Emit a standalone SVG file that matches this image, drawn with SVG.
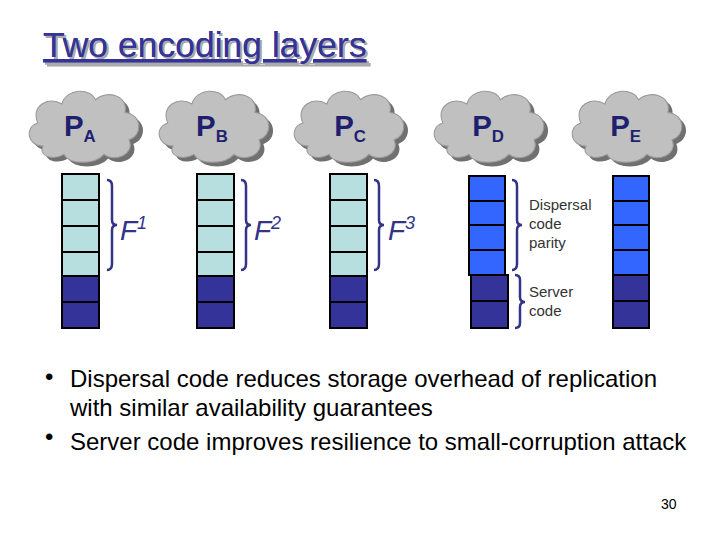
<svg xmlns="http://www.w3.org/2000/svg" width="720" height="540" viewBox="0 0 720 540">
<style>
.l{fill:#b8dfe0;stroke:#000;stroke-width:2}
.m{fill:#3366ff;stroke:#000;stroke-width:2}
.d{fill:#333399;stroke:#000;stroke-width:2}
.cl{fill:#c0c0c0;stroke:#999;stroke-width:1}
.sh{fill:#707070}
.p{font-family:"Liberation Sans",Arial,sans-serif;font-size:28px;font-weight:bold;fill:#1f1f6f}
.ps{font-size:16px}
.br{fill:none;stroke:#333388;stroke-width:2.5}
.f{font-family:"Liberation Sans",Arial,sans-serif;font-size:28px;font-style:italic;fill:#333388}
.t{font-family:"Liberation Sans",Arial,sans-serif;font-size:15px;fill:#333}
.b{font-family:"Liberation Sans",Arial,sans-serif;font-size:24px;fill:#000}
</style>
<defs>
<path id="cloud" d="M-40,20 C-55,20 -58,2 -45,-2 C-52,-18 -35,-28 -22,-20 C-18,-35 5,-36 10,-24 C20,-34 42,-28 38,-12 C55,-10 55,10 42,14 C48,28 28,36 18,28 C10,38 -15,38 -20,28 C-30,34 -45,30 -40,20 Z"/>
</defs>
<text x="43" y="57" font-family="Liberation Sans,Arial,sans-serif" font-size="35.5" fill="#333399" text-decoration="underline" style="text-shadow:2px 2px 0 #aaa">Two encoding layers</text>
<g id="clouds">
<g id="cloudA" transform="translate(85,125) scale(1.05)"><use href="#cloud" class="sh" transform="translate(4,4)"/><use href="#cloud" class="cl"/><text class="p" x="-20" y="10">P<tspan class="ps" dy="6">A</tspan></text></g>
<g id="cloudB" transform="translate(215,125) scale(1.05)"><use href="#cloud" class="sh" transform="translate(4,4)"/><use href="#cloud" class="cl"/><text class="p" x="-18" y="10">P<tspan class="ps" dy="6">B</tspan></text></g>
<g id="cloudC" transform="translate(350,125) scale(1.05)"><use href="#cloud" class="sh" transform="translate(4,4)"/><use href="#cloud" class="cl"/><text class="p" x="-15" y="10">P<tspan class="ps" dy="6">C</tspan></text></g>
<g id="cloudD" transform="translate(490,125) scale(1.05)"><use href="#cloud" class="sh" transform="translate(4,4)"/><use href="#cloud" class="cl"/><text class="p" x="-17" y="10">P<tspan class="ps" dy="6">D</tspan></text></g>
<g id="cloudE" transform="translate(628,125) scale(1.05)"><use href="#cloud" class="sh" transform="translate(4,4)"/><use href="#cloud" class="cl"/><text class="p" x="-17" y="10">P<tspan class="ps" dy="6">E</tspan></text></g>
</g>
<g id="colA"><rect class="l" x="62" y="174" width="37" height="26"/><rect class="l" x="62" y="200" width="37" height="26"/><rect class="l" x="62" y="226" width="37" height="26"/><rect class="l" x="62" y="252" width="37" height="24"/><rect class="d" x="62" y="276" width="37" height="26"/><rect class="d" x="62" y="302" width="37" height="26"/></g>
<g id="colB"><rect class="l" x="197" y="174" width="37" height="26"/><rect class="l" x="197" y="200" width="37" height="26"/><rect class="l" x="197" y="226" width="37" height="26"/><rect class="l" x="197" y="252" width="37" height="24"/><rect class="d" x="197" y="276" width="37" height="26"/><rect class="d" x="197" y="302" width="37" height="26"/></g>
<g id="colC"><rect class="l" x="330" y="174" width="37" height="26"/><rect class="l" x="330" y="200" width="37" height="26"/><rect class="l" x="330" y="226" width="37" height="26"/><rect class="l" x="330" y="252" width="37" height="24"/><rect class="d" x="330" y="276" width="37" height="26"/><rect class="d" x="330" y="302" width="37" height="26"/></g>
<g id="colD"><rect class="m" x="469" y="176" width="36" height="25"/><rect class="m" x="469" y="201" width="36" height="24"/><rect class="m" x="469" y="225" width="36" height="25"/><rect class="m" x="469" y="250" width="36" height="25"/><rect class="d" x="471" y="275" width="37" height="26"/><rect class="d" x="471" y="301" width="37" height="27"/></g>
<g id="colE"><rect class="m" x="613" y="176" width="36" height="25"/><rect class="m" x="613" y="201" width="36" height="24"/><rect class="m" x="613" y="225" width="36" height="25"/><rect class="m" x="613" y="250" width="36" height="25"/><rect class="d" x="613" y="275" width="36" height="26"/><rect class="d" x="613" y="301" width="36" height="27"/></g>
<g id="braces">
<path class="br" d="M107,180 Q112,180 112,186 L112,220 Q112,225 117,225 Q112,225 112,230 L112,264 Q112,270 107,270"/>
<path class="br" d="M241,180 Q246,180 246,186 L246,220 Q246,225 251,225 Q246,225 246,230 L246,264 Q246,270 241,270"/>
<path class="br" d="M374,180 Q379,180 379,186 L379,220 Q379,225 384,225 Q379,225 379,230 L379,264 Q379,270 374,270"/>
<path class="br" d="M512,180 Q517,180 517,186 L517,220 Q517,225 522,225 Q517,225 517,230 L517,264 Q517,270 512,270"/>
<path class="br" d="M515,275 Q520,275 520,280 L520,297 Q520,302 525,302 Q520,302 520,307 L520,323 Q520,328 515,328"/>
</g>
<g id="labels">
<text class="f" x="120" y="240">F<tspan font-size="18" dy="-11">1</tspan></text>
<text class="f" x="254" y="240">F<tspan font-size="18" dy="-11">2</tspan></text>
<text class="f" x="388" y="240">F<tspan font-size="18" dy="-11">3</tspan></text>
<text class="t" x="529" y="210">Dispersal</text>
<text class="t" x="529" y="229">code</text>
<text class="t" x="529" y="248">parity</text>
<text class="t" x="529" y="297">Server</text>
<text class="t" x="529" y="316">code</text>
</g>
<g id="bullets">
<text class="b" x="45" y="385">•</text>
<text class="b" x="70" y="387">Dispersal code reduces storage overhead of replication</text>
<text class="b" x="70" y="416">with similar availability guarantees</text>
<text class="b" x="45" y="445">•</text>
<text class="b" x="70" y="450">Server code improves resilience to small-corruption attack</text>
<text x="661" y="509" font-family="Liberation Sans,Arial,sans-serif" font-size="14" fill="#000">30</text>
</g>
</svg>
